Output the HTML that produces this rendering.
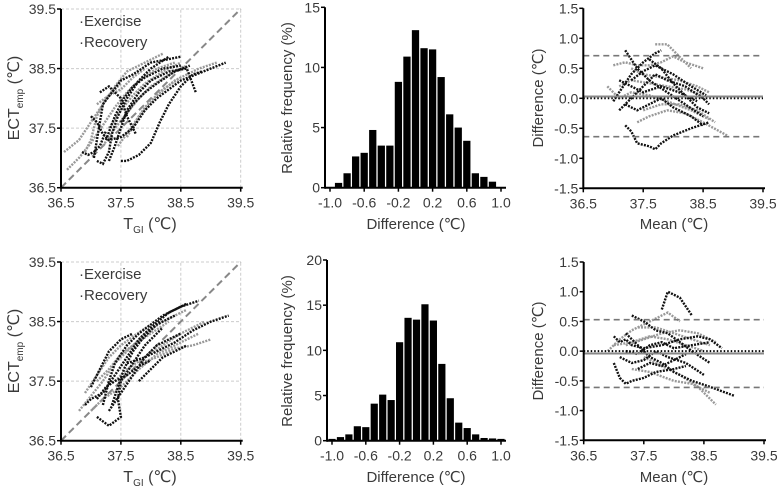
<!DOCTYPE html>
<html><head><meta charset="utf-8"><style>
body{margin:0;background:#fff}
svg{display:block;font-family:"Liberation Sans","DejaVu Sans",sans-serif}
text{fill:#3a3a3a}
</style></head><body>
<svg id="fig" width="778" height="488" viewBox="0 0 778 488" xmlns="http://www.w3.org/2000/svg"></svg>
<script>
// Histogram data
const histTopCenters=[-0.9,-0.8,-0.7,-0.6,-0.5,-0.4,-0.3,-0.2,-0.1,0,0.1,0.2,0.3,0.4,0.5,0.6,0.7,0.8,0.9];
const histTopValues=[0.4,1.2,2.6,2.9,4.8,3.5,3.5,8.8,10.9,13.1,11.6,11.5,9.2,6.1,5.0,3.9,1.2,0.9,0.5];
const histBotCenters=[-1.0,-0.9,-0.8,-0.7,-0.6,-0.5,-0.4,-0.3,-0.2,-0.1,0,0.1,0.2,0.3,0.4,0.5,0.6,0.7,0.8,0.9,1.0];
const histBotValues=[0.2,0.4,0.7,1.6,1.5,4.1,5.1,4.5,10.9,13.6,13.4,15.1,13.3,8.5,4.7,2.0,1.4,0.7,0.3,0.25,0.2];
const histXTicks=[-1.0,-0.6,-0.2,0.2,0.6,1.0];
const histTopYTicks=[0,5,10,15];
const histBotYTicks=[0,5,10,15,20];
const tempTicks=[36.5,37.5,38.5,39.5];
const diffTicks=[-1.5,-1.0,-0.5,0.0,0.5,1.0,1.5];
// Bland-Altman reference lines [upper LoA, bias, lower LoA]
const baTopLines=[0.71,0.03,-0.64];
const baBotLines=[0.53,-0.04,-0.61];
// Scatter trajectories [x,y]
const scTopExercise=[
[[36.55,37.1],[36.8,37.3],[37.0,37.6],[37.2,37.9],[37.4,38.2],[37.6,38.45],[37.9,38.6],[38.2,38.75]],
[[36.6,36.8],[36.8,37.0],[37.0,37.25],[37.2,37.55],[37.4,37.85],[37.6,38.1],[37.8,38.3],[38.1,38.5],[38.4,38.6]],
[[37.2,37.2],[37.4,37.5],[37.6,37.75],[37.8,38.0],[38.0,38.2],[38.3,38.4],[38.6,38.55]],
[[37.45,37.2],[37.7,37.55],[37.9,37.85],[38.1,38.05],[38.4,38.3],[38.8,38.5],[39.1,38.6]],
[[36.9,37.1],[37.0,37.3],[37.1,37.7],[37.25,38.0],[37.5,38.25]],
[[37.3,37.5],[37.5,37.8],[37.7,38.05],[37.9,38.25],[38.2,38.45],[38.5,38.6]],
[[37.6,37.35],[37.8,37.7],[38.0,37.95],[38.2,38.15],[38.5,38.35]],
[[37.1,37.9],[37.3,38.05],[37.5,38.15],[37.7,38.35],[37.9,38.5]]];
const scTopRecovery=[
[[37.1,36.95],[37.2,36.9],[37.3,37.1],[37.35,37.4],[37.45,37.7],[37.6,38.0],[37.8,38.3],[38.0,38.5],[38.3,38.7]],
[[37.5,36.95],[37.6,36.95],[37.8,37.05],[38.0,37.25],[38.15,37.6],[38.3,37.9],[38.5,38.2],[38.7,38.4],[38.85,38.45]],
[[37.05,37.0],[37.1,37.3],[37.15,37.6],[37.2,37.9],[37.35,38.1],[37.5,38.3],[37.7,38.4],[38.0,38.6],[38.5,38.7]],
[[37.3,36.95],[37.4,37.2],[37.5,37.5],[37.6,37.8],[37.8,38.1],[38.0,38.3],[38.3,38.45],[38.6,38.5],[38.75,38.1]],
[[37.0,37.7],[37.1,37.6],[37.2,37.4],[37.3,37.3],[37.5,37.35],[37.7,37.5],[37.9,37.8],[38.1,38.0],[38.5,38.3],[39.25,38.6]],
[[36.85,37.1],[36.95,37.05],[37.05,37.1],[37.15,37.2],[37.25,37.45]],
[[37.25,37.3],[37.4,37.7],[37.55,38.0],[37.7,38.2],[37.9,38.35],[38.2,38.5],[38.5,38.55]],
[[37.5,37.6],[37.7,37.9],[37.9,38.1],[38.1,38.25],[38.4,38.45],[38.65,38.55]],
[[37.15,38.1],[37.3,38.2],[37.5,38.0],[37.6,37.7],[37.75,37.4]]];
const baTopExercise=[
[[37.0,0.55],[37.2,0.6],[37.4,0.55],[37.6,0.55],[37.8,0.6],[38.0,0.7],[38.2,0.6],[38.5,0.5]],
[[37.1,0.2],[37.3,0.3],[37.6,0.25],[37.9,0.2],[38.2,0.15],[38.5,0.05]],
[[37.4,-0.4],[37.6,-0.3],[37.9,-0.2],[38.2,-0.25],[38.5,-0.4],[38.9,-0.62]],
[[37.7,0.9],[37.9,0.9],[38.1,0.7],[38.3,0.5]],
[[36.9,0.2],[37.1,0.0],[37.3,0.1],[37.6,0.05],[37.9,-0.05],[38.3,-0.2],[38.6,-0.35]],
[[37.3,0.5],[37.5,0.4],[37.8,0.35],[38.1,0.3],[38.4,0.2],[38.6,0.1]],
[[37.5,-0.2],[37.8,-0.1],[38.1,-0.1],[38.4,-0.2],[38.7,-0.4]]];
const baTopRecovery=[
[[37.2,-0.45],[37.3,-0.55],[37.4,-0.75],[37.6,-0.8],[37.7,-0.85],[37.8,-0.75],[38.0,-0.62],[38.3,-0.5],[38.6,-0.4]],
[[37.0,-0.05],[37.1,0.1],[37.3,0.4],[37.5,0.6],[37.7,0.75],[37.8,0.8]],
[[37.1,-0.2],[37.3,0.0],[37.5,0.2],[37.7,0.4],[37.9,0.3],[38.2,0.2],[38.5,0.0],[38.6,-0.1]],
[[37.2,-0.1],[37.4,-0.2],[37.6,-0.1],[37.8,0.0],[38.0,-0.15],[38.3,-0.3],[38.5,-0.45]],
[[37.2,0.8],[37.4,0.5],[37.6,0.3],[37.9,0.1],[38.2,-0.1],[38.5,-0.3]],
[[37.3,0.3],[37.5,0.45],[37.7,0.55],[38.0,0.4],[38.3,0.2],[38.55,0.05]],
[[37.1,0.3],[37.3,0.2],[37.5,0.1],[37.8,0.2],[38.1,0.1],[38.4,-0.05]],
[[37.6,0.65],[37.8,0.5],[38.0,0.25],[38.2,0.05],[38.4,-0.15],[38.6,-0.25]]];
const scBotExercise=[
[[36.8,37.0],[37.0,37.25],[37.2,37.5],[37.4,37.8],[37.6,38.0],[37.9,38.3],[38.2,38.5],[38.6,38.7]],
[[37.0,37.0],[37.2,37.2],[37.5,37.4],[37.8,37.7],[38.1,37.95],[38.4,38.1],[38.8,38.3]],
[[37.1,37.5],[37.3,37.7],[37.5,37.95],[37.7,38.1],[38.0,38.3],[38.3,38.5]],
[[37.8,37.8],[38.1,37.9],[38.4,38.05],[38.7,38.1],[39.0,38.2]],
[[36.9,37.3],[37.1,37.6],[37.3,37.9],[37.5,38.1],[37.7,38.25],[38.0,38.45]],
[[37.4,37.5],[37.6,37.7],[37.9,37.9],[38.2,38.1],[38.5,38.3],[38.9,38.5]]];
const scBotRecovery=[
[[36.9,37.1],[37.0,37.2],[37.2,37.3],[37.4,37.6],[37.6,37.9],[37.8,38.2],[38.0,38.4],[38.3,38.65],[38.6,38.8]],
[[37.1,36.9],[37.3,36.75],[37.5,36.9],[37.45,37.2],[37.5,37.5],[37.7,37.8],[37.9,38.1],[38.2,38.4]],
[[37.2,37.1],[37.3,37.5],[37.4,37.8],[37.6,38.1],[37.8,38.3],[38.2,38.6],[38.5,38.75],[38.8,38.85]],
[[37.3,37.0],[37.5,37.3],[37.7,37.6],[37.9,37.9],[38.1,38.1],[38.3,38.2],[38.5,38.3]],
[[37.6,37.8],[37.9,37.9],[38.1,38.0],[38.4,38.15],[38.7,38.35],[39.0,38.5],[39.3,38.6]],
[[37.0,37.4],[37.15,37.7],[37.3,38.0],[37.5,38.2],[37.7,38.3]],
[[37.35,37.1],[37.45,37.4],[37.55,37.7],[37.7,38.0],[37.85,38.2],[38.1,38.45],[38.4,38.6]],
[[37.1,37.2],[37.25,37.4],[37.4,37.5],[37.6,37.6],[37.8,37.75],[38.0,37.85]],
[[37.8,37.5],[38.0,37.7],[38.2,37.9],[38.4,38.0],[38.6,38.1]]];
const baBotExercise=[
[[36.9,0.0],[37.1,0.2],[37.3,0.35],[37.5,0.45],[37.7,0.55],[37.9,0.65],[38.1,0.5]],
[[37.2,0.1],[37.5,0.2],[37.8,0.3],[38.1,0.35],[38.4,0.3],[38.7,0.15]],
[[37.5,-0.1],[37.8,-0.25],[38.1,-0.4],[38.4,-0.6],[38.7,-0.9]],
[[37.3,-0.3],[37.6,-0.35],[38.0,-0.5],[38.3,-0.55],[38.6,-0.7]],
[[37.0,0.1],[37.3,0.15],[37.6,0.25],[37.9,0.2],[38.2,0.1],[38.5,0.0]],
[[37.4,0.4],[37.7,0.4],[38.0,0.3],[38.3,0.2],[38.6,0.1]]];
const baBotRecovery=[
[[37.0,0.25],[37.1,0.15],[37.2,0.2],[37.3,0.1],[37.5,0.05],[37.8,0.1],[38.1,0.2],[38.4,0.25],[38.6,0.2],[38.8,0.05]],
[[37.0,-0.2],[37.1,-0.45],[37.2,-0.55],[37.3,-0.5],[37.5,-0.45],[37.7,-0.35],[38.0,-0.3],[38.2,-0.25]],
[[37.2,0.3],[37.4,0.1],[37.6,-0.1],[37.8,-0.2],[38.0,-0.35],[38.3,-0.5],[38.6,-0.6],[39.0,-0.75]],
[[37.3,0.6],[37.5,0.5],[37.7,0.35],[37.9,0.3],[38.1,0.15],[38.3,0.0],[38.6,-0.2]],
[[37.8,0.7],[37.9,1.0],[38.1,0.9],[38.3,0.6]],
[[37.1,-0.1],[37.3,-0.2],[37.5,-0.15],[37.7,0.0],[37.9,-0.1],[38.2,-0.2],[38.5,-0.4]],
[[37.2,0.0],[37.4,-0.05],[37.6,0.1],[37.8,0.15],[38.0,0.05],[38.3,0.1],[38.6,0.15]],
[[37.4,-0.3],[37.6,-0.2],[37.8,-0.25],[38.0,-0.15],[38.2,-0.05]]];

const NS="http://www.w3.org/2000/svg";
const svg=document.getElementById('fig');
function mk(tag,attrs,parent,txt){const e=document.createElementNS(NS,tag);for(const k in attrs)e.setAttribute(k,attrs[k]);if(txt!==undefined)e.textContent=txt;(parent||svg).appendChild(e);return e;}
function scale(d0,d1,p0,p1){return v=>p0+(v-d0)/(d1-d0)*(p1-p0);}
function fmt(v){return v.toFixed(1);}

function axes(g,X,Y,x0,x1,y0,y1,xt,yt,xf,yf){
  const ax=mk('line',{x1:X(x0),y1:Y(y0),x2:X(x1)+2,y2:Y(y0),stroke:'#000','stroke-width':2},g);
  
  
  const ay=mk('line',{x1:X(x0),y1:Y(y0)+1,x2:X(x0),y2:Y(y1),stroke:'#000','stroke-width':2},g);
  
  
  xt.forEach(v=>{
    mk('line',{x1:X(v),y1:Y(y0),x2:X(v),y2:Y(y0)+4,stroke:'#000','stroke-width':1.5},g);
    const t=mk('text',{x:X(v),y:Y(y0)+20,'text-anchor':'middle','font-size':14},g,xf(v));
    
    
  });
  yt.forEach(v=>{
    mk('line',{x1:X(x0)-4,y1:Y(v),x2:X(x0),y2:Y(v),stroke:'#000','stroke-width':1.5},g);
    const t=mk('text',{x:X(x0)-5,y:Y(v)+5,'text-anchor':'end','font-size':14},g,yf(v));
    
    
  });
}
function trajs(g,X,Y,list,color,name){
  list.forEach(tr=>{
    const d=tr.map((p,i)=>(i?'L':'M')+X(p[0]).toFixed(1)+','+Y(p[1]).toFixed(1)).join('');
    const p=mk('path',{d:d,fill:'none',stroke:color,'stroke-width':2.4,'stroke-dasharray':'2 1.2'},g);
    
    
  });
}
function scatterPanel(top,exer,reco){
  const yb=top?0:253;
  const g=mk('g',{});
  
  
  const X=scale(36.5,39.5,61,240.7), Y=scale(36.5,39.5,187.7+yb,9+yb);
  [37.5,38.5,39.5].forEach(v=>{
    mk('line',{x1:X(v),y1:Y(36.5),x2:X(v),y2:Y(39.5),stroke:'#ccc','stroke-width':1,'stroke-dasharray':'3 2'},g);
    mk('line',{x1:X(36.5),y1:Y(v),x2:X(39.5),y2:Y(v),stroke:'#ccc','stroke-width':1,'stroke-dasharray':'3 2'},g);
  });
  const id=mk('line',{x1:X(36.5),y1:Y(36.5),x2:X(39.5),y2:Y(39.5),stroke:'#888','stroke-width':2,'stroke-dasharray':'7 4'},g);
  
  
  trajs(g,X,Y,exer,'#999','exercise-points');
  trajs(g,X,Y,reco,'#111','recovery-points');
  axes(g,X,Y,36.5,39.5,36.5,39.5,tempTicks,tempTicks,fmt,fmt);
  const l1=mk('text',{x:79,y:yb+26,'font-size':15},g,'·Exercise');
  
  
  const l2=mk('text',{x:79,y:yb+47,'font-size':15},g,'·Recovery');
  
  
  const yt=mk('text',{transform:`translate(19,${yb+98}) rotate(-90)`,'text-anchor':'middle','font-size':16},g);
  yt.innerHTML='ECT<tspan font-size="10" dy="4">emp</tspan><tspan dy="-4"> (℃)</tspan>';
  
  
  const xt=mk('text',{x:150,y:yb+229,'text-anchor':'middle','font-size':16},g);
  xt.innerHTML='T<tspan font-size="10" dy="4">GI</tspan><tspan dy="-4"> (℃)</tspan>';
  
  
}
function histPanel(top,centers,values,yticks){
  const yb=top?0:253;
  const g=mk('g',{});
  
  
  const X=top?scale(-1,1,330,501):scale(-1,1,332,501);
  const Y=top?scale(0,15,187.7,7.3):scale(0,20,440.7,260);
  const w=X(0.085)-X(0);
  centers.forEach((c,i)=>{
    const r=mk('rect',{x:X(c)-w/2,y:Y(values[i]),width:w,height:Y(0)-Y(values[i]),fill:'#000'},g);
    
    
  });
  const ymax=yticks[yticks.length-1];
  const ax=mk('line',{x1:X(-1)-5,y1:Y(0),x2:X(1)+5,y2:Y(0),stroke:'#000','stroke-width':2},g);
  
  
  const ay=mk('line',{x1:X(-1)-5,y1:Y(0)+1,x2:X(-1)-5,y2:Y(ymax),stroke:'#000','stroke-width':2},g);
  
  
  histXTicks.forEach(v=>{
    mk('line',{x1:X(v),y1:Y(0),x2:X(v),y2:Y(0)+4,stroke:'#000','stroke-width':1.5},g);
    const t=mk('text',{x:X(v),y:Y(0)+20,'text-anchor':'middle','font-size':14},g,fmt(v));
    
    
  });
  yticks.forEach(v=>{
    mk('line',{x1:X(-1)-9,y1:Y(v),x2:X(-1)-5,y2:Y(v),stroke:'#000','stroke-width':1.5},g);
    const t=mk('text',{x:X(-1)-10,y:Y(v)+5,'text-anchor':'end','font-size':14},g,String(v));
    
    
  });
  const yt=mk('text',{transform:`translate(292,${yb+98}) rotate(-90)`,'text-anchor':'middle','font-size':15},g,'Relative frequency (%)');
  
  
  const xt=mk('text',{x:416,y:yb+229,'text-anchor':'middle','font-size':15},g,'Difference (℃)');
  
  
}
function baPanel(top,exer,reco,lines){
  const yb=top?0:253;
  const g=mk('g',{});
  
  
  const X=top?scale(36.5,39.5,583.3,763):scale(36.5,39.5,583.7,764);
  const Y=top?scale(-1.5,1.5,188.3,8.3):scale(-1.5,1.5,440.3,262);
  trajs(g,X,Y,exer,'#999','exercise-points');
  trajs(g,X,Y,reco,'#111','recovery-points');
  const z=mk('line',{x1:X(36.5),y1:Y(0),x2:X(39.5),y2:Y(0),stroke:'#000','stroke-width':2,'stroke-dasharray':'1.5 2'},g);
  
  
  const b=mk('line',{x1:X(36.5),y1:Y(lines[1]),x2:X(39.5),y2:Y(lines[1]),stroke:'#888','stroke-width':2},g);
  
  
  [lines[0],lines[2]].forEach((v,i)=>{
    const l=mk('line',{x1:X(36.5),y1:Y(v),x2:X(39.5),y2:Y(v),stroke:'#777','stroke-width':1.6,'stroke-dasharray':'6 4'},g);
    
    
  });
  axes(g,X,Y,36.5,39.5,-1.5,1.5,tempTicks,diffTicks,fmt,fmt);
  const yt=mk('text',{transform:`translate(543,${yb+98}) rotate(-90)`,'text-anchor':'middle','font-size':15},g,'Difference (℃)');
  
  
  const xt=mk('text',{x:674,y:yb+229,'text-anchor':'middle','font-size':15},g,'Mean (℃)');
  
  
}
scatterPanel(true,scTopExercise,scTopRecovery);
scatterPanel(false,scBotExercise,scBotRecovery);
histPanel(true,histTopCenters,histTopValues,histTopYTicks);
histPanel(false,histBotCenters,histBotValues,histBotYTicks);
baPanel(true,baTopExercise,baTopRecovery,baTopLines);
baPanel(false,baBotExercise,baBotRecovery,baBotLines);
</script>
</body></html>
